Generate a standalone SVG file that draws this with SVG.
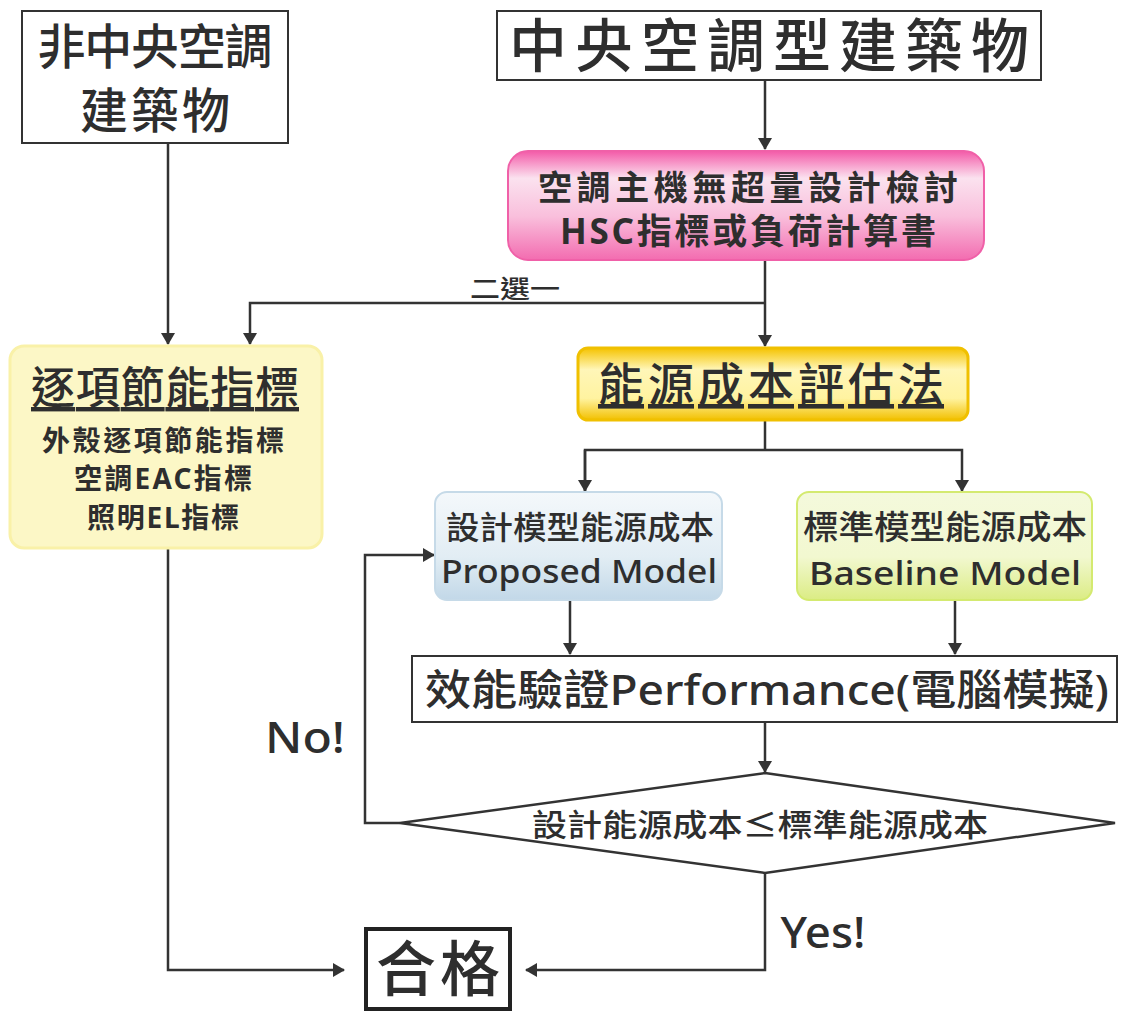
<svg xmlns="http://www.w3.org/2000/svg" width="1131" height="1013" viewBox="0 0 1131 1013">
<defs>
<style>
.t{font-family:"Noto Sans","Noto Sans CJK TC",sans-serif;fill:#2e2e2e;text-anchor:middle}
.b{font-weight:bold}
.m{font-weight:500}
.box{fill:#fff;stroke:#333;stroke-width:2}
.ln{fill:none;stroke:#333;stroke-width:2.5}
</style>
<marker id="ah" viewBox="0 0 12 14" refX="11" refY="7" markerWidth="12" markerHeight="14" markerUnits="userSpaceOnUse" orient="auto">
<path d="M0,0 L12,7 L0,14 Z" fill="#333"/>
</marker>
<linearGradient id="gPink" x1="0" y1="0" x2="0" y2="1">
<stop offset="0" stop-color="#f35aa8"/>
<stop offset="0.25" stop-color="#fbe2ef"/>
<stop offset="0.6" stop-color="#f9bfdc"/>
<stop offset="1" stop-color="#f36cb0"/>
</linearGradient>
<linearGradient id="gGold" x1="0" y1="0" x2="0" y2="1">
<stop offset="0" stop-color="#f5c300"/>
<stop offset="0.3" stop-color="#fff6b8"/>
<stop offset="0.7" stop-color="#fff3a0"/>
<stop offset="1" stop-color="#f2c000"/>
</linearGradient>
<linearGradient id="gBlue" x1="0" y1="0" x2="0" y2="1">
<stop offset="0" stop-color="#f4f8fb"/>
<stop offset="0.6" stop-color="#e2edf4"/>
<stop offset="1" stop-color="#c2d8e8"/>
</linearGradient>
<linearGradient id="gGreen" x1="0" y1="0" x2="0" y2="1">
<stop offset="0" stop-color="#f4f9dc"/>
<stop offset="0.6" stop-color="#f2f8d0"/>
<stop offset="1" stop-color="#dbec84"/>
</linearGradient>
</defs>
<rect width="1131" height="1013" fill="#fff"/>

<g id="connectors">
<line class="ln" x1="765" y1="80" x2="765" y2="149" marker-end="url(#ah)"/>
<line class="ln" x1="168" y1="143" x2="168" y2="344" marker-end="url(#ah)"/>
<line class="ln" x1="765" y1="260" x2="765" y2="346" marker-end="url(#ah)"/>
<polyline class="ln" points="765,303 250,303 250,344" marker-end="url(#ah)"/>
<text class="t m" x="515" y="298" font-size="25" textLength="90" lengthAdjust="spacingAndGlyphs">二選一</text>
<line class="ln" x1="765" y1="420" x2="765" y2="450"/>
<polyline class="ln" points="585,491 585,450 962,450 962,491" marker-end="url(#ah)"/>
<line class="ln" x1="585" y1="450" x2="585" y2="491" marker-end="url(#ah)"/>
<line class="ln" x1="570" y1="600" x2="570" y2="654" marker-end="url(#ah)"/>
<line class="ln" x1="955" y1="600" x2="955" y2="654" marker-end="url(#ah)"/>
<line class="ln" x1="765" y1="722" x2="765" y2="772" marker-end="url(#ah)"/>
<polyline class="ln" points="400,823 365,823 365,555 434,555" marker-end="url(#ah)"/>
<text class="t m" x="305" y="753" font-size="44" textLength="80" lengthAdjust="spacingAndGlyphs">No!</text>
<polyline class="ln" points="765,873 765,970 526,970" marker-end="url(#ah)"/>
<text class="t m" x="823" y="948" font-size="44" textLength="85" lengthAdjust="spacingAndGlyphs">Yes!</text>
<polyline class="ln" points="168,548 168,970 344,970" marker-end="url(#ah)"/>
</g>

<g id="n-noncentral">
<rect class="box" x="22" y="11" width="266" height="132"/>
<text class="t m" x="155" y="64" font-size="48" textLength="235">非中央空調</text>
<text class="t m" x="155" y="128" font-size="48" textLength="150">建築物</text>
</g>

<g id="n-central">
<rect class="box" x="497" y="11" width="544" height="69"/>
<text class="t m" x="769" y="67" font-size="58" textLength="520">中央空調型建築物</text>
</g>

<g id="n-hsc">
<rect x="508" y="151" width="476" height="109" rx="20" fill="url(#gPink)" stroke="#f060a8" stroke-width="2"/>
<text class="t b" x="748" y="200" font-size="34" textLength="420">空調主機無超量設計檢討</text>
<text class="t b" x="748" y="244" font-size="35" textLength="376">HSC指標或負荷計算書</text>
</g>

<g id="n-prescriptive">
<rect x="10" y="346" width="312" height="202" rx="14" fill="#fcf7c6" stroke="#f9f1a8" stroke-width="3"/>
<text class="t m" x="165" y="404" font-size="44" textLength="268" text-decoration="underline">逐項節能指標</text>
<text class="t b" x="163" y="451" font-size="28" textLength="242">外殼逐項節能指標</text>
<text class="t b" x="163" y="489" font-size="28" textLength="178">空調EAC指標</text>
<text class="t b" x="163" y="528" font-size="28" textLength="152">照明EL指標</text>
</g>

<g id="n-ecb">
<rect x="578" y="348" width="390" height="72" rx="10" fill="url(#gGold)" stroke="#f0c000" stroke-width="3"/>
<text class="t m" x="771" y="401" font-size="46" textLength="346" text-decoration="underline">能源成本評估法</text>
</g>

<g id="n-proposed">
<rect x="435" y="492" width="287" height="108" rx="12" fill="url(#gBlue)" stroke="#c6dae8" stroke-width="2"/>
<text class="t m" x="580" y="539" font-size="32" textLength="268" lengthAdjust="spacingAndGlyphs">設計模型能源成本</text>
<text class="t m" x="579" y="583" font-size="32" textLength="276" lengthAdjust="spacingAndGlyphs">Proposed Model</text>
</g>

<g id="n-baseline">
<rect x="797" y="492" width="295" height="108" rx="12" fill="url(#gGreen)" stroke="#d4ea70" stroke-width="2"/>
<text class="t m" x="945" y="539" font-size="33" textLength="284" lengthAdjust="spacingAndGlyphs">標準模型能源成本</text>
<text class="t m" x="945" y="585" font-size="32" textLength="272" lengthAdjust="spacingAndGlyphs">Baseline Model</text>
</g>

<g id="n-performance">
<rect class="box" x="412" y="656" width="705" height="66"/>
<text class="t m" x="767" y="705" font-size="42" textLength="684" lengthAdjust="spacingAndGlyphs">效能驗證Performance(電腦模擬)</text>
</g>

<g id="n-decision">
<polygon points="765,773 1115,823 765,873 400,823" fill="#fff" stroke="#333" stroke-width="2.5"/>
<text class="t m" x="760" y="836" font-size="31" textLength="456" lengthAdjust="spacingAndGlyphs">設計能源成本≤標準能源成本</text>
</g>

<g id="n-pass">
<rect x="366" y="929" width="144" height="80" fill="#fff" stroke="#222" stroke-width="4"/>
<text class="t m" x="438" y="991" font-size="60" textLength="124">合格</text>
</g>
</svg>
